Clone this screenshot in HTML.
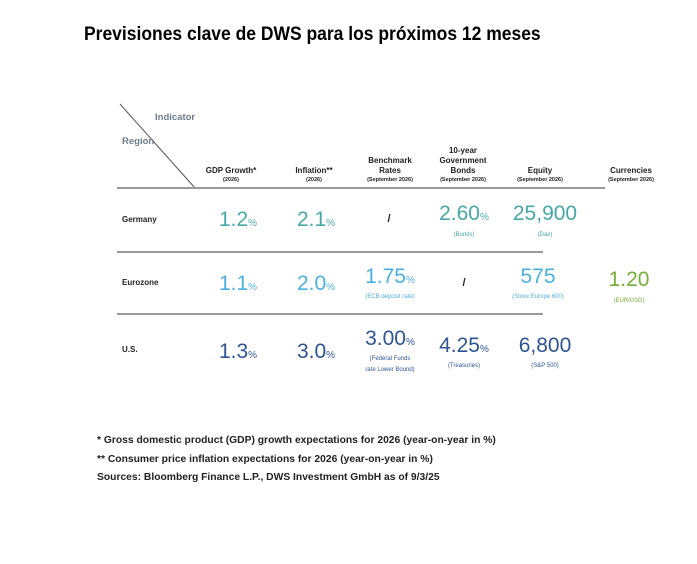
<!DOCTYPE html>
<html><head><meta charset="utf-8"><style>
body{margin:0;width:697px;height:564px;background:#fff;font-family:"Liberation Sans",sans-serif;position:relative;overflow:hidden}
.a{position:absolute;white-space:nowrap}
.c{position:absolute;transform:translateX(-50%);text-align:center;white-space:nowrap}
.h{font-size:8px;font-weight:bold;color:#222;line-height:10px}
.h small{font-size:5.5px;font-weight:bold;display:block;line-height:8px}
.big{font-size:21px;line-height:24px}
.big span{font-size:10px}
.sub{font-size:6px;line-height:11px}
.t{color:#45a8a6}.l{color:#4ab0de}.d{color:#2e5493}.g{color:#76ad35}
.r{font-size:8px;font-weight:bold;color:#222}
.line{position:absolute;height:2px;background:#9a9a9a}
.f{font-size:10.3px;font-weight:bold;color:#222}
</style></head><body>
<div class="a" style="left:84px;top:24px;font-size:19px;font-weight:bold;color:#000;transform:scaleX(0.92);transform-origin:left">Previsiones clave de DWS para los próximos 12 meses</div>
<svg class="a" style="left:0;top:0" width="697" height="564"><line x1="120" y1="104" x2="195" y2="188" stroke="#555" stroke-width="1"/></svg>
<div class="a" style="left:155px;top:112px;font-size:9.5px;font-weight:bold;color:#6b7e8e">Indicator</div>
<div class="a" style="left:122px;top:136px;font-size:9.5px;font-weight:bold;color:#6b7e8e">Region</div>
<div class="line" style="left:117px;top:187px;width:488px"></div>
<div class="line" style="left:117px;top:251px;width:426px;height:1.5px"></div>
<div class="line" style="left:117px;top:313px;width:426px;height:1.5px"></div>
<div class="c h" style="left:231px;top:166px">GDP Growth*<small>(2026)</small></div>
<div class="c h" style="left:314px;top:166px">Inflation**<small>(2026)</small></div>
<div class="c h" style="left:390px;top:156px">Benchmark<br>Rates<small>(September 2026)</small></div>
<div class="c h" style="left:463px;top:146px">10-year<br>Government<br>Bonds<small>(September 2026)</small></div>
<div class="c h" style="left:540px;top:166px">Equity<small>(September 2026)</small></div>
<div class="c h" style="left:631px;top:166px">Currencies<small>(September 2026)</small></div>
<div class="a r" style="left:122px;top:215px">Germany</div>
<div class="a r" style="left:122px;top:278px">Eurozone</div>
<div class="a r" style="left:122px;top:345px">U.S.</div>
<div class="c big t" style="left:238px;top:208px">1.2<span>%</span></div>
<div class="c big t" style="left:316px;top:208px">2.1<span>%</span></div>
<div class="c r" style="left:389px;top:213px;font-size:11px">/</div>
<div class="c big t" style="left:464px;top:202px">2.60<span>%</span></div>
<div class="c sub t" style="left:464px;top:230px">(Bunds)</div>
<div class="c big t" style="left:545px;top:202px">25,900</div>
<div class="c sub t" style="left:545px;top:230px">(Dax)</div>
<div class="c big l" style="left:238px;top:272px">1.1<span>%</span></div>
<div class="c big l" style="left:316px;top:272px">2.0<span>%</span></div>
<div class="c big l" style="left:390px;top:265px">1.75<span>%</span></div>
<div class="c sub l" style="left:390px;top:292px">(ECB deposit rate)</div>
<div class="c r" style="left:464px;top:277px;font-size:11px">/</div>
<div class="c big l" style="left:538px;top:265px">575</div>
<div class="c sub l" style="left:538px;top:292px">(Stoxx Europe 600)</div>
<div class="c big g" style="left:629px;top:268px">1.20</div>
<div class="c sub g" style="left:629px;top:296px">(EUR/USD)</div>
<div class="c big d" style="left:238px;top:340px">1.3<span>%</span></div>
<div class="c big d" style="left:316px;top:340px">3.0<span>%</span></div>
<div class="c big d" style="left:390px;top:327px">3.00<span>%</span></div>
<div class="c sub d" style="left:390px;top:354px">(Federal Funds<br>rate Lower Bound)</div>
<div class="c big d" style="left:464px;top:334px">4.25<span>%</span></div>
<div class="c sub d" style="left:464px;top:361px">(Treasuries)</div>
<div class="c big d" style="left:545px;top:334px">6,800</div>
<div class="c sub d" style="left:545px;top:361px">(S&amp;P 500)</div>
<div class="a f" style="left:97px;top:435px">* Gross domestic product (GDP) growth expectations for 2026 (year-on-year in %)</div>
<div class="a f" style="left:97px;top:454px">** Consumer price inflation expectations for 2026 (year-on-year in %)</div>
<div class="a f" style="left:97px;top:472px">Sources: Bloomberg Finance L.P., DWS Investment GmbH as of 9/3/25</div>
</body></html>
